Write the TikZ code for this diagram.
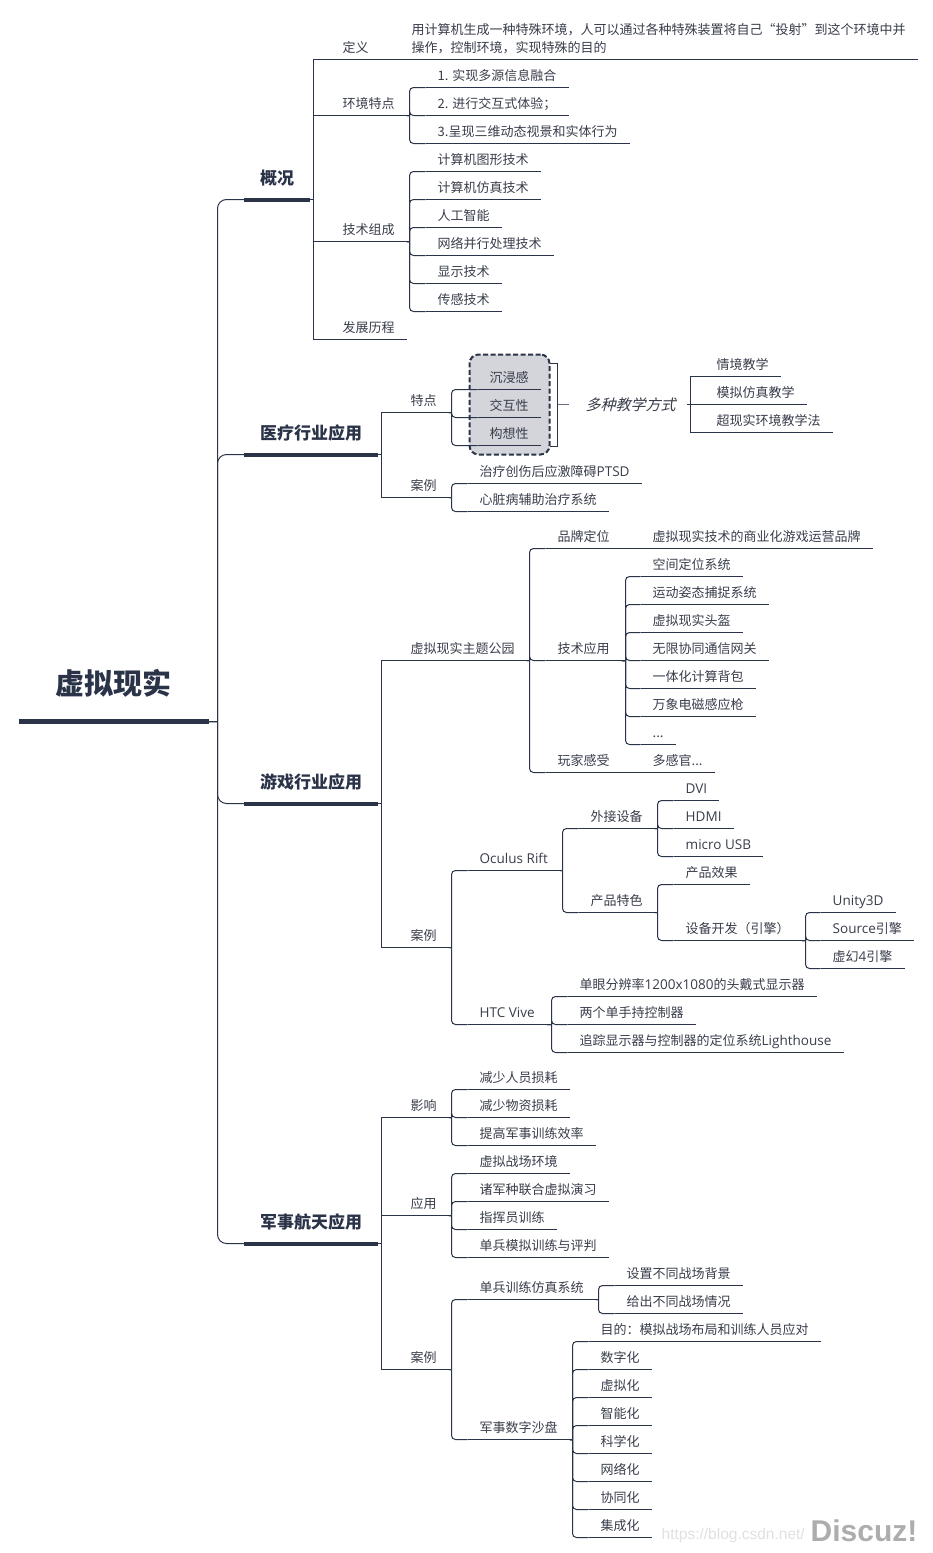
\documentclass[tikz,border=0pt]{standalone}
\usepackage{fontspec}
\setmainfont{Noto Sans CJK SC}
\newfontfamily\slantfont[FakeSlant=0.25]{Noto Sans CJK SC}
\newfontfamily\urlfont{Liberation Sans}
\newfontfamily\latinfont[Scale=1.04]{Open Sans}
\usepackage{tikz}
\usetikzlibrary{calc}
\definecolor{linecol}{HTML}{2A3348}
\definecolor{textcol}{HTML}{383D4A}
\definecolor{floatcol}{HTML}{D3D5DA}
\newcommand{\lat}[1]{{\latinfont #1}}
\newcommand{\branch}[4][branchline]{\draw[#1] (#2) -- ($(#2 -| #4.south west)+(-#3,0)$) ++(0,0) |- (#4.south west);}
\tikzstyle{branchline} = [draw=linecol, line width=1pt, rounded corners=4pt]
\tikzstyle{squareline} = [draw=linecol, line width=1pt]
\tikzstyle{rootline} = [draw=linecol, line width=1pt, rounded corners=9pt]
\tikzstyle{rootbox} = [anchor=south west, inner xsep=0pt, inner ysep=0pt, minimum width=190pt, text=linecol, font=\fontsize{29}{29}\selectfont\bfseries, text height=30pt, text depth=27pt,
	append after command={(\tikzlastnode.south west) edge[draw=linecol, line width=5pt] (\tikzlastnode.south east)}]
\tikzstyle{topicbox} = [anchor=south west, inner xsep=16pt, inner ysep=0pt, text=linecol, font=\fontsize{17}{17}\selectfont\bfseries, text height=20pt, text depth=14.5pt,
	append after command={(\tikzlastnode.south west) edge[draw=linecol, line width=4pt] (\tikzlastnode.south east)}]
\tikzstyle{itembox} = [anchor=south west, inner xsep=12pt, inner ysep=0pt, text=textcol, font=\fontsize{13}{18}\selectfont, text height=17pt, text depth=7pt,
	append after command={(\tikzlastnode.south west) edge[draw=linecol, line width=1pt] (\tikzlastnode.south east)}]
\tikzstyle{summarybox} = [anchor=west, inner xsep=11pt, inner ysep=0pt, text=textcol, font=\fontsize{15}{15}\selectfont\slantfont]
\tikzstyle{floatbox} = [draw=linecol, fill=floatcol, line width=2pt, dash pattern=on 5pt off 2.5pt, rounded corners=9pt, minimum width=80pt, minimum height=100pt, inner sep=0pt]
\tikzstyle{markbox} = [anchor=west, inner sep=0pt, text=black!32, font=\fontsize{30}{30}\selectfont\urlfont\bfseries]
\tikzstyle{urlbox} = [anchor=west, inner sep=0pt, text=black!12, font=\fontsize{15.5}{15.5}\selectfont\urlfont]

\begin{document}
\begin{tikzpicture}[x=1pt,y=-1pt]
	\useasboundingbox (-0.5,-0.5) rectangle (932.5,1552.5);
	% root and main topics
	\node[rootbox] (root) at (18,721) {虚拟现实};
	\node[topicbox] (survey) at (243.5,199) {概况};
	\node[topicbox] (medical) at (243.5,454) {医疗行业应用};
	\node[topicbox] (game) at (243.5,803) {游戏行业应用};
	\node[topicbox] (military) at (243.5,1243) {军事航天应用};
	\branch[rootline]{root.south east}{26.5}{survey}
	\branch[rootline]{root.south east}{26.5}{medical}
	\branch[rootline]{root.south east}{26.5}{game}
	\branch[rootline]{root.south east}{26.5}{military}
	% survey
	\node[itembox] (define) at (330,59) {定义};
	\node[itembox] (traits) at (330,115) {环境特点};
	\node[itembox] (parts) at (330,241) {技术组成};
	\node[itembox] (history) at (330,339) {发展历程};
	\node[itembox, text height=35pt] (definetext) at (399,59) {\parbox[b]{494pt}{用计算机生成一种特殊环境，人可以通过各种特殊装置将自己“投射”到这个环境中并\\操作，控制环境，实现特殊的目的}};
	\draw[squareline] (define.south east) -- (definetext.south west);
	\node[itembox] (traita) at (425,87) {1. 实现多源信息融合};
	\node[itembox] (traitb) at (425,115) {2. 进行交互式体验；};
	\node[itembox] (traitc) at (425,143) {3.呈现三维动态视景和实体行为};
	\node[itembox] (parta) at (425,171) {计算机图形技术};
	\node[itembox] (partb) at (425,199) {计算机仿真技术};
	\node[itembox] (partc) at (425,227) {人工智能};
	\node[itembox] (partd) at (425,255) {网络并行处理技术};
	\node[itembox] (parte) at (425,283) {显示技术};
	\node[itembox] (partf) at (425,311) {传感技术};
	\branch[squareline]{survey.south east}{17}{define}
	\branch[squareline]{survey.south east}{17}{traits}
	\branch[squareline]{survey.south east}{17}{parts}
	\branch[squareline]{survey.south east}{17}{history}
	\branch{traits.south east}{16}{traita}
	\branch{traits.south east}{16}{traitb}
	\branch{traits.south east}{16}{traitc}
	\branch{parts.south east}{16}{parta}
	\branch{parts.south east}{16}{partb}
	\branch{parts.south east}{16}{partc}
	\branch{parts.south east}{16}{partd}
	\branch{parts.south east}{16}{parte}
	\branch{parts.south east}{16}{partf}
	% medical
	\node[floatbox] (floatgroup) at (509,404) {};
	\node[itembox] (feature) at (398,412) {特点};
	\node[itembox] (medcase) at (398,497) {案例};
	\node[itembox] (feela) at (477,389) {沉浸感};
	\node[itembox] (feelb) at (477,417) {交互性};
	\node[itembox] (feelc) at (477,445) {构想性};
	\node[itembox] (medcasea) at (467,483) {治疗创伤后应激障碍\lat{PTSD}};
	\node[itembox] (medcaseb) at (467,511) {心脏病辅助治疗系统};
	\node[summarybox] (teach) at (568,404) {\hspace{6pt}多种教学方式};
	\node[itembox] (teacha) at (704,376) {情境教学};
	\node[itembox] (teachb) at (704,404) {模拟仿真教学};
	\node[itembox] (teachc) at (704,432) {超现实环境教学法};
	\coordinate (sumtop) at (549,363);
	\coordinate (sumbot) at (549,446);
	\draw[squareline] (sumtop) -- ++(8,0) |- (sumbot);
	\draw[squareline, draw=linecol!70] (557,404) -- (teach.west);
	\branch[squareline]{medical.south east}{17}{feature}
	\branch[squareline]{medical.south east}{17}{medcase}
	\branch{feature.south east}{26}{feela}
	\branch{feature.south east}{26}{feelb}
	\branch{feature.south east}{26}{feelc}
	\branch{medcase.south east}{16}{medcasea}
	\branch{medcase.south east}{16}{medcaseb}
	\branch[squareline]{teach.east}{14}{teacha}
	\branch[squareline]{teach.east}{14}{teachb}
	\branch[squareline]{teach.east}{14}{teachc}
	% game
	\node[itembox] (park) at (398,660) {虚拟现实主题公园};
	\node[itembox] (gamecase) at (398,947) {案例};
	\node[itembox] (brand) at (545,548) {品牌定位};
	\node[itembox] (tech) at (545,660) {技术应用};
	\node[itembox] (player) at (545,772) {玩家感受};
	\node[itembox] (brandtext) at (640,548) {虚拟现实技术的商业化游戏运营品牌};
	\node[itembox] (techa) at (640,576) {空间定位系统};
	\node[itembox] (techb) at (640,604) {运动姿态捕捉系统};
	\node[itembox] (techc) at (640,632) {虚拟现实头盔};
	\node[itembox] (techd) at (640,660) {无限协同通信网关};
	\node[itembox] (teche) at (640,688) {一体化计算背包};
	\node[itembox] (techf) at (640,716) {万象电磁感应枪};
	\node[itembox] (techg) at (640,744) {...};
	\node[itembox] (playertext) at (640,772) {多感官...};
	\node[itembox] (rift) at (467,870) {\lat{Oculus Rift}};
	\node[itembox] (vive) at (467,1024) {\lat{HTC Vive}};
	\node[itembox] (device) at (578,828) {外接设备};
	\node[itembox] (product) at (578,912) {产品特色};
	\node[itembox] (dvi) at (673,800) {\lat{DVI}};
	\node[itembox] (hdmi) at (673,828) {\lat{HDMI}};
	\node[itembox] (usb) at (673,856) {\lat{micro USB}};
	\node[itembox] (effect) at (673,884) {产品效果};
	\node[itembox] (engine) at (673,940) {设备开发（引擎）};
	\node[itembox] (unity) at (820,912) {\lat{Unity3D}};
	\node[itembox] (source) at (820,940) {\lat{Source}引擎};
	\node[itembox] (unreal) at (820,968) {虚幻\lat{4}引擎};
	\node[itembox] (vivea) at (567,996) {单眼分辨率\lat{1200x1080}的头戴式显示器};
	\node[itembox] (viveb) at (567,1024) {两个单手持控制器};
	\node[itembox] (vivec) at (567,1052) {追踪显示器与控制器的定位系统\lat{Lighthouse}};
	\branch[squareline]{game.south east}{17}{park}
	\branch[squareline]{game.south east}{17}{gamecase}
	\branch{park.south east}{16}{brand}
	\branch{park.south east}{16}{tech}
	\branch{park.south east}{16}{player}
	\draw[squareline] (brand.south east) -- (brandtext.south west);
	\draw[squareline] (player.south east) -- (playertext.south west);
	\branch{tech.south east}{15}{techa}
	\branch{tech.south east}{15}{techb}
	\branch{tech.south east}{15}{techc}
	\branch{tech.south east}{15}{techd}
	\branch{tech.south east}{15}{teche}
	\branch{tech.south east}{15}{techf}
	\branch{tech.south east}{15}{techg}
	\branch{gamecase.south east}{16}{rift}
	\branch{gamecase.south east}{16}{vive}
	\branch{rift.south east}{16}{device}
	\branch{rift.south east}{16}{product}
	\branch{device.south east}{16}{dvi}
	\branch{device.south east}{16}{hdmi}
	\branch{device.south east}{16}{usb}
	\branch{product.south east}{16}{effect}
	\branch{product.south east}{16}{engine}
	\branch{engine.south east}{15}{unity}
	\branch{engine.south east}{15}{source}
	\branch{engine.south east}{15}{unreal}
	\branch{vive.south east}{16}{vivea}
	\branch{vive.south east}{16}{viveb}
	\branch{vive.south east}{16}{vivec}
	% military
	\node[itembox] (impact) at (398,1117) {影响};
	\node[itembox] (apply) at (398,1215) {应用};
	\node[itembox] (milcase) at (398,1369) {案例};
	\node[itembox] (impacta) at (467,1089) {减少人员损耗};
	\node[itembox] (impactb) at (467,1117) {减少物资损耗};
	\node[itembox] (impactc) at (467,1145) {提高军事训练效率};
	\node[itembox] (applya) at (467,1173) {虚拟战场环境};
	\node[itembox] (applyb) at (467,1201) {诸军种联合虚拟演习};
	\node[itembox] (applyc) at (467,1229) {指挥员训练};
	\node[itembox] (applyd) at (467,1257) {单兵模拟训练与评判};
	\node[itembox] (soldier) at (467,1299) {单兵训练仿真系统};
	\node[itembox] (sandbox) at (467,1439) {军事数字沙盘};
	\node[itembox] (soldiera) at (614,1285) {设置不同战场背景};
	\node[itembox] (soldierb) at (614,1313) {给出不同战场情况};
	\node[itembox] (sanda) at (588,1341) {目的：模拟战场布局和训练人员应对};
	\node[itembox] (sandb) at (588,1369) {数字化};
	\node[itembox] (sandc) at (588,1397) {虚拟化};
	\node[itembox] (sandd) at (588,1425) {智能化};
	\node[itembox] (sande) at (588,1453) {科学化};
	\node[itembox] (sandf) at (588,1481) {网络化};
	\node[itembox] (sandg) at (588,1509) {协同化};
	\node[itembox] (sandh) at (588,1537) {集成化};
	\branch[squareline]{military.south east}{17}{impact}
	\branch[squareline]{military.south east}{17}{apply}
	\branch[squareline]{military.south east}{17}{milcase}
	\branch{impact.south east}{16}{impacta}
	\branch{impact.south east}{16}{impactb}
	\branch{impact.south east}{16}{impactc}
	\branch{apply.south east}{16}{applya}
	\branch{apply.south east}{16}{applyb}
	\branch{apply.south east}{16}{applyc}
	\branch{apply.south east}{16}{applyd}
	\branch{milcase.south east}{16}{soldier}
	\branch{milcase.south east}{16}{sandbox}
	\branch{soldier.south east}{16}{soldiera}
	\branch{soldier.south east}{16}{soldierb}
	\branch{sandbox.south east}{16}{sanda}
	\branch{sandbox.south east}{16}{sandb}
	\branch{sandbox.south east}{16}{sandc}
	\branch{sandbox.south east}{16}{sandd}
	\branch{sandbox.south east}{16}{sande}
	\branch{sandbox.south east}{16}{sandf}
	\branch{sandbox.south east}{16}{sandg}
	\branch{sandbox.south east}{16}{sandh}
	% watermark
	\node[urlbox] (url) at (661,1535) {https://blog.csdn.net/};
	\node[markbox] (mark) at (810,1530) {Discuz!};
\end{tikzpicture}
\end{document}
